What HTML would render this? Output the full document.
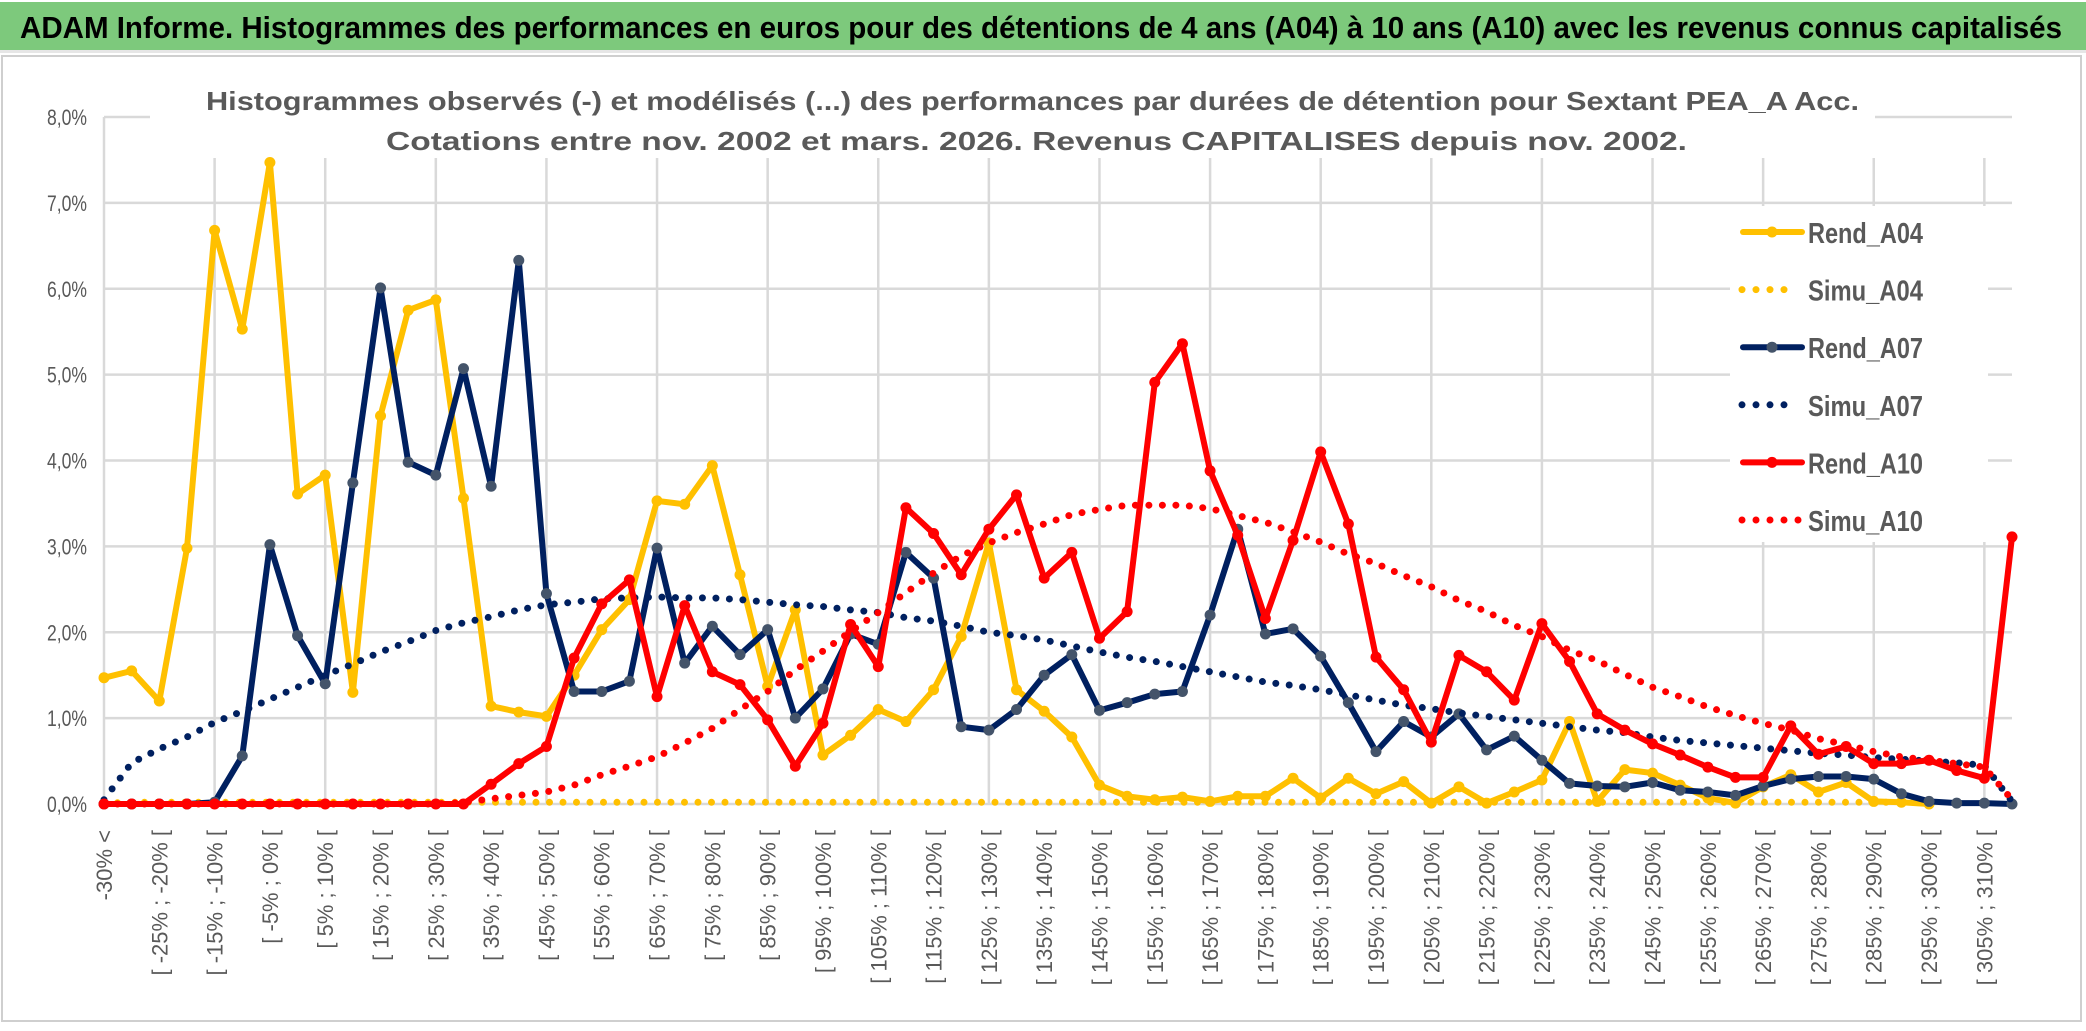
<!DOCTYPE html>
<html><head><meta charset="utf-8">
<style>
html,body{margin:0;padding:0;background:#fff;}
svg{display:block;font-family:"Liberation Sans",sans-serif;}
</style></head>
<body>
<svg id="chart" width="2086" height="1031" viewBox="0 0 2086 1031" xmlns="http://www.w3.org/2000/svg">
<rect x="0" y="0" width="2086" height="1031" fill="#ffffff"/>
<rect x="0" y="2" width="2086" height="48" fill="#7dc97c"/>
<rect x="0" y="50" width="2086" height="3" fill="#e6e6e6"/>
<text x="20" y="38" font-size="31" font-weight="bold" fill="#000" textLength="2042" lengthAdjust="spacingAndGlyphs">ADAM Informe. Histogrammes des performances en euros pour des détentions de 4 ans (A04) à 10 ans (A10) avec les revenus connus capitalisés</text>
<rect x="2" y="56" width="2079" height="965" fill="none" stroke="#cfcfcf" stroke-width="2"/>
<g id="grid"></g>
<g id="yaxis"></g>
<g id="xaxis"></g>
<rect x="150" y="78" width="1725" height="80" fill="#ffffff"/>
<text x="206" y="110" font-size="26" font-weight="bold" fill="#595959" textLength="1653" lengthAdjust="spacingAndGlyphs">Histogrammes observés (-) et modélisés (...) des performances par durées de détention pour Sextant PEA_A Acc.</text>
<text x="386" y="150" font-size="26" font-weight="bold" fill="#595959" textLength="1301" lengthAdjust="spacingAndGlyphs">Cotations entre nov. 2002 et mars. 2026. Revenus CAPITALISES depuis nov. 2002.</text>
<g id="series"></g>
<g id="legend"></g>
</svg>
<script>
const categories = [];
categories.push("-30% <");
for (let i = 1; i < 69; i++) { categories.push("[ " + (-35 + 5 * i) + "% ; " + (-30 + 5 * i) + "% ["); }
categories.push("310% <");

const yTicks = [0, 1, 2, 3, 4, 5, 6, 7, 8];
const yTickLabels = ["0,0%", "1,0%", "2,0%", "3,0%", "4,0%", "5,0%", "6,0%", "7,0%", "8,0%"];

const rendA04 = [1.47,1.55,1.2,2.98,6.68,5.53,7.47,3.61,3.83,1.3,4.52,5.75,5.87,3.56,1.14,1.07,1.02,1.5,2.03,2.38,3.53,3.49,3.94,2.67,1.37,2.26,0.57,0.8,1.1,0.96,1.33,1.95,3.04,1.33,1.08,0.78,0.22,0.09,0.05,0.08,0.03,0.09,0.09,0.3,0.07,0.3,0.12,0.26,0.01,0.2,0.01,0.14,0.28,0.96,0.03,0.4,0.36,0.22,0.07,0.01,0.2,0.34,0.14,0.25,0.03,0.02,0.0,null,null,null];
const simuA04 = [0.01,0.02,0.02,0.02,0.02,0.02,0.02,0.02,0.02,0.02,0.02,0.02,0.02,0.02,0.02,0.02,0.02,0.02,0.02,0.02,0.02,0.02,0.02,0.02,0.02,0.02,0.02,0.02,0.02,0.02,0.02,0.02,0.02,0.02,0.02,0.02,0.02,0.02,0.02,0.02,0.02,0.02,0.02,0.02,0.02,0.02,0.02,0.02,0.02,0.02,0.02,0.02,0.02,0.02,0.02,0.02,0.02,0.02,0.02,0.02,0.02,0.02,0.02,0.02,0.02,0.02,0.02,null,null,null];
const rendA07 = [0,0,0,0,0.02,0.56,3.02,1.96,1.4,3.74,6.01,3.98,3.83,5.07,3.7,6.33,2.45,1.31,1.31,1.43,2.98,1.64,2.07,1.74,2.03,1.0,1.34,1.98,1.86,2.93,2.63,0.9,0.86,1.1,1.5,1.74,1.09,1.18,1.28,1.31,2.2,3.2,1.98,2.04,1.72,1.18,0.61,0.96,0.78,1.05,0.63,0.79,0.51,0.24,0.21,0.2,0.25,0.16,0.14,0.1,0.21,0.29,0.32,0.32,0.29,0.12,0.03,0.01,0.01,0.0];
const simuA07 = [0.05,0.48,0.64,0.78,0.95,1.08,1.22,1.36,1.5,1.63,1.77,1.89,2.02,2.11,2.18,2.26,2.32,2.35,2.39,2.4,2.41,2.4,2.4,2.38,2.35,2.32,2.3,2.26,2.23,2.17,2.13,2.07,2.0,1.96,1.91,1.84,1.77,1.71,1.66,1.6,1.54,1.48,1.42,1.38,1.33,1.27,1.21,1.15,1.11,1.06,1.02,0.98,0.94,0.9,0.86,0.83,0.78,0.74,0.71,0.68,0.65,0.62,0.59,0.57,0.54,0.52,0.5,0.48,0.45,0.03];
const rendA10 = [0,0,0,0,0,0,0,0,0,0,0,0,0,0,0.23,0.47,0.67,1.7,2.33,2.61,1.25,2.31,1.54,1.39,0.98,0.44,0.94,2.09,1.6,3.45,3.15,2.67,3.2,3.6,2.63,2.93,1.93,2.24,4.91,5.36,3.88,3.13,2.16,3.07,4.1,3.26,1.71,1.33,0.72,1.73,1.54,1.21,2.1,1.66,1.05,0.86,0.7,0.57,0.43,0.31,0.31,0.91,0.58,0.67,0.47,0.47,0.51,0.39,0.3,3.11];
const simuA10 = [0,0,0,0,0,0,0,0,0,0,0,0,0,0.02,0.06,0.1,0.14,0.22,0.34,0.44,0.55,0.71,0.88,1.1,1.31,1.56,1.78,2.01,2.23,2.46,2.69,2.89,3.04,3.16,3.26,3.37,3.43,3.48,3.48,3.48,3.44,3.36,3.28,3.17,3.05,2.91,2.8,2.66,2.53,2.37,2.24,2.08,1.95,1.79,1.67,1.51,1.36,1.25,1.13,1.03,0.94,0.86,0.76,0.69,0.61,0.55,0.51,0.47,0.43,0.05];

const seriesNames = ["Rend_A04","Simu_A04","Rend_A07","Simu_A07","Rend_A10","Simu_A10"];

const NS = "http://www.w3.org/2000/svg";
const X0 = 104, X1 = 2012, Y0 = 804, Y8 = 117;
function xScale(i){ return X0 + (X1 - X0) * i / (categories.length - 1); }
function yScale(v){ return Y0 - (Y0 - Y8) * v / 8; }
function mk(tag, attrs, parent){ const e = document.createElementNS(NS, tag); for (const k in attrs) e.setAttribute(k, attrs[k]); parent.appendChild(e); return e; }

const grid = document.getElementById("grid");
yTicks.forEach(function(t){
  const l = mk("line", {x1: X0, x2: X1, y1: yScale(t), y2: yScale(t), stroke: "#d9d9d9", "stroke-width": 2.5}, grid);
  
  
});
for (let i = 0; i < categories.length; i += 4) {
  const l = mk("line", {x1: xScale(i), x2: xScale(i), y1: (i === 0 ? Y8 : 158), y2: Y0, stroke: "#d9d9d9", "stroke-width": 2.5}, grid);
  
  
}
const yaxis = document.getElementById("yaxis");
yTicks.forEach(function(t, k){
  const tx = mk("text", {x: 87, y: yScale(t) + 8, "font-size": 22, fill: "#595959", "text-anchor": "end", textLength: 40, lengthAdjust: "spacingAndGlyphs"}, yaxis);
  tx.textContent = yTickLabels[k];
  
  
});
const xaxis = document.getElementById("xaxis");
for (let i = 0; i < categories.length - 1; i += 2) {
  const x = xScale(i) + 8, y = 830;
  const tx = mk("text", {x: x, y: y, "font-size": 22, fill: "#595959", "text-anchor": "end", transform: "rotate(-90 " + x + " " + y + ")"}, xaxis);
  tx.textContent = categories[i];
  
  
}

const seriesG = document.getElementById("series");
function pathFor(vals){
  let d = "", pen = false;
  vals.forEach(function(v, i){
    if (v === null) { pen = false; return; }
    d += (pen ? " L" : " M") + xScale(i).toFixed(1) + " " + yScale(v).toFixed(1);
    pen = true;
  });
  return d;
}
function solid(vals, color, mcolor, name){
  const g = mk("g", {}, seriesG);
  
  
  mk("path", {d: pathFor(vals), fill: "none", stroke: color, "stroke-width": 6, "stroke-linejoin": "round", "stroke-linecap": "round"}, g);
  vals.forEach(function(v, i){
    if (v === null) return;
    const c = mk("circle", {cx: xScale(i), cy: yScale(v), r: 5.5, fill: mcolor}, g);
    
    
  });
}
function dotted(vals, color, name){
  const p = mk("path", {d: pathFor(vals), fill: "none", stroke: color, "stroke-width": 7, "stroke-linecap": "round", "stroke-dasharray": "0 13.5"}, seriesG);
  
  
}
solid(rendA04, "#ffc000", "#ffc000", "series-rend-a04");
dotted(simuA04, "#ffc000", "series-simu-a04");
solid(rendA07, "#002060", "#44546a", "series-rend-a07");
dotted(simuA07, "#002060", "series-simu-a07");
solid(rendA10, "#ff0000", "#ff0000", "series-rend-a10");
dotted(simuA10, "#ff0000", "series-simu-a10");

const legend = document.getElementById("legend");
mk("rect", {x: 1730, y: 206, width: 258, height: 336, fill: "#ffffff"}, legend);
const legendColors = ["#ffc000","#ffc000","#002060","#002060","#ff0000","#ff0000"];
const legendMarker = ["#ffc000",null,"#44546a",null,"#ff0000",null];
seriesNames.forEach(function(n, k){
  const y = 232 + k * 57.6;
  const g = mk("g", {}, legend);
  
  
  if (k % 2 === 0) {
    mk("line", {x1: 1743, x2: 1802, y1: y, y2: y, stroke: legendColors[k], "stroke-width": 6, "stroke-linecap": "round"}, g);
    mk("circle", {cx: 1772, cy: y, r: 5.5, fill: legendMarker[k]}, g);
  } else {
    mk("line", {x1: 1742, x2: (k === 5 ? 1802 : 1790), y1: y, y2: y, stroke: legendColors[k], "stroke-width": 7, "stroke-linecap": "round", "stroke-dasharray": "0 14"}, g);
  }
  const t = mk("text", {x: 1808, y: y + 11, "font-size": 29, "font-weight": "bold", fill: "#595959", textLength: 115, lengthAdjust: "spacingAndGlyphs"}, g);
  t.textContent = n;
});
</script>
</body></html>
